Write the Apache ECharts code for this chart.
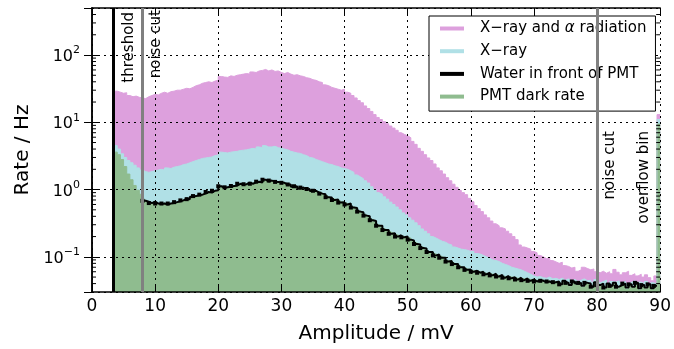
<!DOCTYPE html>
<html>
<head>
<meta charset="utf-8">
<script src="https://cdn.jsdelivr.net/npm/echarts@6/dist/echarts.min.js"></script>
<style>
  html, body { margin: 0; padding: 0; background: #fff; }
  #chart { width: 674px; height: 349px; }
</style>
</head>
<body>
<div id="chart"></div>
<script>
// histogram bins: 0.5 mV wide, left edges start at 3.5 mV, last bin = overflow bin
const binStart = 3.5
const binWidth = 0.5

// rates in Hz, one value per bin (10 bins per row = 5 mV)
const xrayAlpha = [
  29, 28, 27, 27.5, 25, 24, 24.5, 23.5, 23, 22.5,
  24, 25, 26, 25.5, 27, 28, 27, 28.5, 29, 30,
  30, 31, 32, 31.5, 33, 35, 36, 38, 39, 40,
  39, 41, 42, 48, 47, 46.5, 49, 48, 50, 51,
  52, 53, 52, 56, 55, 58, 59, 61, 58, 60,
  57, 58, 55, 53, 55, 52, 50, 51, 49, 48,
  46, 45, 43, 42, 40, 39, 36, 35, 33, 32,
  31, 30, 31, 28, 27, 25, 23, 21, 19.5, 17.5,
  16, 14.5, 13, 11.8, 11, 10.2, 9.5, 8.8, 8.2, 7.6,
  7.0, 6.6, 6.3, 5.9, 5.2, 4.7, 4.1, 3.7, 3.3, 2.95,
  2.7, 2.4, 2.1, 1.9, 1.7, 1.5, 1.35, 1.2, 1.08, 0.97,
  0.9, 0.84, 0.74, 0.66, 0.58, 0.52, 0.47, 0.42, 0.38, 0.34,
  0.31, 0.29, 0.27, 0.26, 0.24, 0.22, 0.2, 0.18, 0.15, 0.14,
  0.135, 0.13, 0.12, 0.115, 0.105, 0.1, 0.094, 0.098, 0.088, 0.084,
  0.08, 0.083, 0.074, 0.072, 0.068, 0.07, 0.061, 0.064, 0.07, 0.067,
  0.064, 0.066, 0.06, 0.058, 0.061, 0.057, 0.06, 0.056, 0.065, 0.059,
  0.054, 0.058, 0.061, 0.053, 0.056, 0.052, 0.055, 0.05, 0.054, 0.049,
  0.044, 0.052, 13
]

const xray = [
  4.5, 4.0, 3.4, 3.0, 2.7, 2.5, 2.3, 2.1, 1.95, 1.85,
  1.8, 1.85, 1.9, 1.95, 2.0, 1.95, 2.1, 2.05, 2.15, 2.2,
  2.25, 2.35, 2.4, 2.5, 2.6, 2.7, 2.8, 2.9, 2.95, 3.0,
  3.05, 3.2, 3.25, 3.6, 3.55, 3.5, 3.6, 3.65, 3.7, 3.8,
  3.85, 3.9, 4.0, 4.1, 4.0, 4.3, 4.2, 4.5, 4.3, 4.3,
  4.4, 4.2, 4.1, 4.0, 3.9, 3.7, 3.6, 3.5, 3.45, 3.3,
  3.2, 3.0, 2.95, 2.8, 2.7, 2.6, 2.5, 2.4, 2.35, 2.25,
  2.2, 2.1, 2.05, 2.0, 1.9, 1.8, 1.65, 1.55, 1.45, 1.35,
  1.25, 1.1, 1.0, 0.9, 0.85, 0.78, 0.72, 0.65, 0.6, 0.55,
  0.5, 0.45, 0.42, 0.38, 0.35, 0.32, 0.29, 0.26, 0.24, 0.22,
  0.2, 0.19, 0.18, 0.17, 0.165, 0.155, 0.15, 0.14, 0.135, 0.13,
  0.128, 0.125, 0.12, 0.12, 0.112, 0.11, 0.105, 0.1, 0.095, 0.09,
  0.088, 0.085, 0.08, 0.077, 0.074, 0.07, 0.068, 0.066, 0.064, 0.061,
  0.058, 0.055, 0.052, 0.05, 0.051, 0.049, 0.048, 0.05, 0.047, 0.048,
  0.046, 0.048, 0.045, 0.047, 0.044, 0.046, 0.043, 0.045, 0.047, 0.044,
  0.045, 0.042, 0.046, 0.041, 0.043, 0.045, 0.04, 0.043, 0.042, 0.044,
  0.041, 0.043, 0.04, 0.042, 0.044, 0.039, 0.042, 0.04, 0.043, 0.038,
  0.041, 0.039, 11
]

const water = [
  null, null, null, null, null, null, null, null, null, 0.68,
  0.66, 0.63, 0.66, 0.62, 0.61, 0.62, 0.6, 0.62, 0.63, 0.65,
  0.67, 0.69, 0.73, 0.72, 0.78, 0.8, 0.83, 0.84, 0.87, 0.92,
  0.9, 0.96, 0.98, 1.12, 1.06, 1.08, 1.1, 1.13, 1.14, 1.22,
  1.19, 1.2, 1.27, 1.22, 1.28, 1.31, 1.27, 1.4, 1.32, 1.36,
  1.31, 1.3, 1.27, 1.26, 1.18, 1.19, 1.1, 1.12, 1.04, 1.07,
  1.0, 1.02, 0.95, 0.96, 0.9, 0.87, 0.85, 0.77, 0.76, 0.7,
  0.71, 0.64, 0.65, 0.6, 0.62, 0.54, 0.53, 0.47, 0.46, 0.41,
  0.4, 0.35, 0.34, 0.29, 0.29, 0.25, 0.25, 0.22, 0.225, 0.2,
  0.21, 0.195, 0.2, 0.18, 0.175, 0.155, 0.152, 0.135, 0.133, 0.118,
  0.118, 0.105, 0.108, 0.097, 0.097, 0.085, 0.087, 0.078, 0.078, 0.07,
  0.07, 0.064, 0.065, 0.06, 0.062, 0.058, 0.06, 0.055, 0.058, 0.053,
  0.056, 0.051, 0.054, 0.049, 0.052, 0.048, 0.05, 0.046, 0.049, 0.045,
  0.048, 0.044, 0.046, 0.043, 0.045, 0.044, 0.042, 0.043, 0.041, 0.042,
  0.043, 0.039, 0.044, 0.041, 0.038, 0.043, 0.04, 0.041, 0.037, 0.041,
  0.04, 0.036, 0.042, 0.038, 0.04, 0.035, 0.04, 0.037, 0.041, 0.036,
  0.038, 0.04, 0.035, 0.039, 0.036, 0.041, 0.034, 0.038, 0.035, 0.039,
  0.034, 0.037, null
]

const darkRate = [
  3.6, 3.3, 2.8, 2.2, 1.7, 1.4, 1.15, 0.98, 0.85, 0.7,
  0.66, 0.64, 0.65, 0.62, 0.6, 0.63, 0.61, 0.62, 0.64, 0.63,
  0.66, 0.7, 0.72, 0.74, 0.77, 0.8, 0.82, 0.85, 0.88, 0.9,
  0.92, 0.95, 0.97, 1.1, 1.05, 1.07, 1.12, 1.1, 1.15, 1.2,
  1.18, 1.22, 1.25, 1.24, 1.27, 1.3, 1.28, 1.37, 1.33, 1.34,
  1.3, 1.32, 1.28, 1.25, 1.2, 1.17, 1.12, 1.1, 1.05, 1.05,
  1.02, 1.0, 0.97, 0.95, 0.92, 0.88, 0.83, 0.78, 0.75, 0.72,
  0.7, 0.66, 0.64, 0.62, 0.6, 0.55, 0.52, 0.48, 0.45, 0.42,
  0.39, 0.36, 0.33, 0.3, 0.28, 0.26, 0.245, 0.23, 0.22, 0.21,
  0.205, 0.2, 0.195, 0.19, 0.17, 0.16, 0.15, 0.14, 0.13, 0.12,
  0.115, 0.11, 0.105, 0.1, 0.095, 0.088, 0.085, 0.08, 0.076, 0.072,
  0.069, 0.066, 0.063, 0.062, 0.06, 0.06, 0.058, 0.057, 0.056, 0.055,
  0.054, 0.053, 0.052, 0.05, 0.051, 0.05, 0.049, 0.048, 0.048, 0.047,
  0.047, 0.046, 0.045, 0.045, 0.043, 0.046, 0.041, 0.044, 0.04, 0.043,
  0.041, 0.038, 0.043, 0.039, 0.036, 0.042, 0.038, 0.04, 0.035, 0.04,
  0.038, 0.035, 0.041, 0.036, 0.039, 0.033, 0.038, 0.036, 0.04, 0.034,
  0.037, 0.039, 0.033, 0.038, 0.035, 0.04, 0.032, 0.037, 0.034, 0.038,
  0.033, 0.036, 9.4
]

const thresholdMv = 3.35
const noiseCutsMv = [7.9, 80]
const names = ['X\u2212ray and \u03b1 radiation', 'X\u2212ray', 'Water in front of PMT', 'PMT dark rate']

const FONT = 'DejaVu Sans'
const xMin = 0, xMax = 90, yMin = 0.03, yMax = 500

// [left edge, value] points for a step ('end') line, closed at the right edge of the last bin
function steps(values) {
  const pts = values.map((v, i) => [binStart + i * binWidth, v])
  pts.push([binStart + values.length * binWidth, values[values.length - 1]])
  return pts
}

// log minor ticks 2..9 x 10^n inside the y range
const minorTicks = []
for (let e = -2; e <= 2; e++) {
  for (let m = 2; m <= 9; m++) {
    const v = m * Math.pow(10, e)
    if (v > yMin && v < yMax) minorTicks.push([xMin, v])
  }
}

function histSeries(name, values, color) {
  return {
    name: name,
    type: 'line',
    step: 'end',
    showSymbol: false,
    data: steps(values),
    itemStyle: { color: color },
    lineStyle: { color: color, width: 1 },
    areaStyle: { color: color, opacity: 1, origin: 'start' },
    z: 1
  }
}

const chart = echarts.init(document.getElementById('chart'))

const gridLine = { show: true, lineStyle: { color: '#000', width: 1, type: [2, 4] } }

chart.setOption({
  animation: false,
  backgroundColor: '#fff',
  textStyle: { fontFamily: FONT },
  grid: { left: 92, right: 10, top: 8, bottom: 55 },
  legend: {
    data: names,
    orient: 'vertical',
    left: 429,
    top: 16,
    icon: 'rect',
    itemWidth: 24,
    itemHeight: 4,
    itemGap: 5.7,
    padding: [4, 9, 6, 11],
    backgroundColor: '#fff',
    borderColor: '#000',
    borderWidth: 1,
    borderRadius: 0,
    textStyle: {
      fontFamily: FONT, fontSize: 15, color: '#000', lineHeight: 17, padding: [0, 0, 0, 11],
      rich: { i: { fontFamily: FONT, fontSize: 15, fontStyle: 'italic', color: '#000' } }
    },
    formatter: function (name) {
      return name === names[0] ? 'X\u2212ray and {i|\u03b1} radiation' : name
    }
  },
  xAxis: [{
    type: 'value', min: xMin, max: xMax, interval: 10, z: 3,
    name: 'Amplitude / mV', nameLocation: 'middle', nameGap: 32,
    nameTextStyle: { fontFamily: FONT, fontSize: 20, color: '#000' },
    axisLine: { lineStyle: { color: '#000', width: 1.5 } },
    axisTick: { inside: true, length: 6, lineStyle: { color: '#000' } },
    axisLabel: { fontFamily: FONT, fontSize: 17, color: '#000', margin: 6 },
    splitLine: gridLine
  }, {
    type: 'value', min: xMin, max: xMax, interval: 10, position: 'top', z: 3,
    axisLine: { lineStyle: { color: '#000', width: 1.5 } },
    axisTick: { inside: true, length: 6, lineStyle: { color: '#000' } },
    axisLabel: { show: false },
    splitLine: { show: false }
  }],
  yAxis: [{
    type: 'log', logBase: 10, min: yMin, max: yMax, z: 3,
    name: 'Rate / Hz', nameLocation: 'middle', nameGap: 58,
    nameTextStyle: { fontFamily: FONT, fontSize: 20, color: '#000' },
    axisLine: { show: true, lineStyle: { color: '#000', width: 1.5 } },
    axisTick: { inside: true, length: 8, lineStyle: { color: '#000' } },
    axisLabel: {
      showMinLabel: false, showMaxLabel: false, margin: 12,
      formatter: function (v) {
        const e = Math.round(Math.log10(v))
        return '{b|10}{e|' + (e < 0 ? '\u2212' + (-e) : e) + '}'
      },
      rich: {
        b: { fontFamily: FONT, fontSize: 16, color: '#000', lineHeight: 20, verticalAlign: 'bottom' },
        e: { fontFamily: FONT, fontSize: 11, color: '#000', lineHeight: 11, verticalAlign: 'top' }
      }
    },
    splitLine: gridLine
  }, {
    type: 'log', logBase: 10, min: yMin, max: yMax, position: 'right', z: 3,
    axisLine: { show: true, lineStyle: { color: '#000', width: 1.5 } },
    axisTick: { inside: true, length: 8, lineStyle: { color: '#000' } },
    axisLabel: { show: false },
    splitLine: { show: false }
  }],
  series: [
    histSeries(names[0], xrayAlpha, '#dda0dd'),
    histSeries(names[1], xray, '#b0e0e6'),
    histSeries(names[3], darkRate, '#8fbc8f'),
    {
      name: names[2],
      type: 'line',
      step: 'end',
      data: steps(water),
      symbol: 'rect',
      showAllSymbol: true,
      symbolSize: function (val) { return Number.isInteger(val[0]) ? 4 : 0 },
      itemStyle: { color: '#000' },
      lineStyle: { color: '#000', width: 2 },
      z: 4
    },
    {
      // minor log ticks on the left and right frame
      type: 'custom',
      silent: true,
      z: 5,
      data: minorTicks,
      renderItem: function (params, api) {
        const v = api.value(1)
        const l = api.coord([xMin, v])
        const r = api.coord([xMax, v])
        const st = { stroke: '#000', lineWidth: 1 }
        return {
          type: 'group',
          children: [
            { type: 'line', shape: { x1: l[0], y1: l[1], x2: l[0] + 4, y2: l[1] }, style: st },
            { type: 'line', shape: { x1: r[0] - 4, y1: r[1], x2: r[0], y2: r[1] }, style: st }
          ]
        }
      }
    },
    {
      // threshold and noise-cut lines
      type: 'line',
      data: [],
      z: 6,
      markLine: {
        silent: true,
        symbol: 'none',
        label: { show: false },
        data: [
          { xAxis: thresholdMv, lineStyle: { color: '#000', width: 3, type: 'solid' } },
          { xAxis: noiseCutsMv[0], lineStyle: { color: '#808080', width: 3, type: 'solid' } },
          { xAxis: noiseCutsMv[1], lineStyle: { color: '#808080', width: 3, type: 'solid' } }
        ]
      }
    }
  ]
})

// vertical annotation texts, anchored through the axes
const topY = chart.convertToPixel({ yAxisIndex: 0 }, yMax)
const midY = chart.convertToPixel({ yAxisIndex: 0 }, 7.4)
function vText(text, x, y) {
  return {
    type: 'text', x: x, y: y, rotation: Math.PI / 2, z: 10,
    style: { text: text, font: '15px "DejaVu Sans"', fill: '#000', align: 'right', verticalAlign: 'middle' }
  }
}
chart.setOption({
  graphic: [
    vText('threshold', chart.convertToPixel({ xAxisIndex: 0 }, thresholdMv) + 16, topY + 4),
    vText('noise cut', chart.convertToPixel({ xAxisIndex: 0 }, noiseCutsMv[0]) + 14, topY + 2),
    vText('noise cut', chart.convertToPixel({ xAxisIndex: 0 }, noiseCutsMv[1]) + 13, midY),
    vText('overflow bin', chart.convertToPixel({ xAxisIndex: 0 }, xMax) - 16, midY)
  ]
})
</script>
</body>
</html>
